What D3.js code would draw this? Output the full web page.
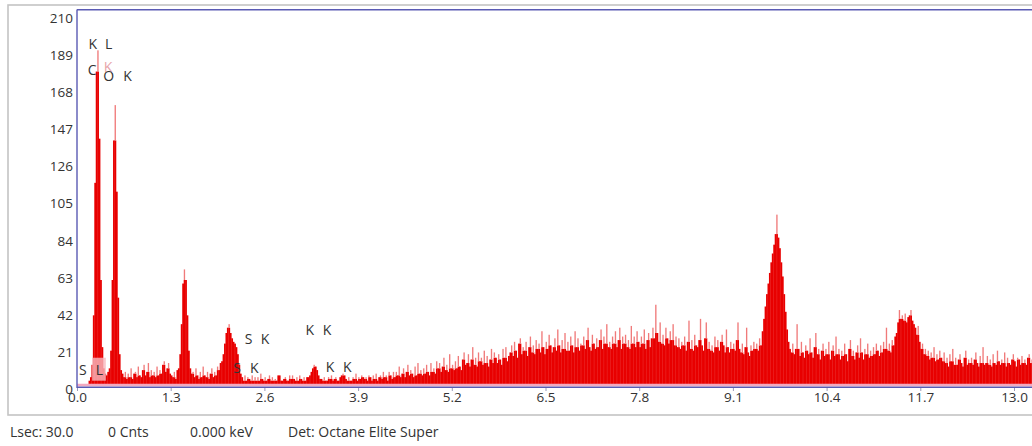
<!DOCTYPE html>
<html><head><meta charset="utf-8">
<script src="https://cdn.jsdelivr.net/npm/d3@7/dist/d3.min.js"></script>
<style>
html,body{margin:0;padding:0;background:#fff;}
svg{display:block;}
text{font-family:"Open Sans","DejaVu Sans",sans-serif;}
</style></head>
<body>
<svg id="chart" width="1032" height="446"></svg>
<script>
// ---- data ----
const binWidth = 0.02;   // keV per channel
const counts = [
 // 0.00 - 0.98 keV
 0,0,0,0,0,0,0,0,3,5, 12,40,115,178,190,140,60,22,10,7, 6,8,10,20,60,139,159,110,50,18, 9,7,5,8,4,7,5,10,4,7, 8,5,11,6,5,9,12,6,8,13,
 // 1.00 - 1.98
 5,9,6,8,5,11,6,9,7,12, 14,8,10,13,7,6,5,8,4,9, 10,18,35,58,66,60,40,20,10,7, 8,5,10,6,4,8,5,11,6,5, 8,4,7,10,5,8,6,11,9,13,
 // 2.00 - 2.98
 14,18,24,30,33,35,30,27,25,24, 22,18,12,7,5,3,6,3,5,4, 3,6,3,5,3,5,3,7,4,3, 5,3,4,6,3,5,3,4,3,6, 6,3,3,4,5,3,3,6,4,6,
 // 3.00 - 3.98
 4,3,5,3,6,4,3,5,3,5, 5,6,8,10,12,11,9,6,4,4, 3,5,3,3,5,4,6,3,4,5, 3,3,5,6,7,6,4,3,5,3, 3,5,4,7,3,5,4,6,5,4,
 // 4.00 - 4.98
 5,3,6,5,3,6,4,7,3,5, 6,4,8,5,6,3,8,6,4,8, 5,8,6,11,5,7,10,5,8,12, 6,9,7,5,11,6,13,7,9,6, 10,7,12,8,6,13,8,10,7,14,
 // 5.00 - 5.98
 10,13,8,11,16,9,12,8,18,10, 12,9,14,10,17,11,9,15,19,12, 13,18,11,15,22,12,16,11,19,14, 16,12,20,13,17,11,15,21,13,19, 16,13,18,15,12,21,16,22,14,17,
 // 6.00 - 6.98
 19,23,17,25,20,16,24,27,18,22, 20,25,17,22,28,19,23,18,26,21, 24,19,31,22,18,25,21,29,23,19, 22,27,20,32,23,19,26,21,30,20, 25,20,28,23,19,31,22,27,20,24,
 // 7.00 - 7.98
 23,28,21,26,33,22,20,29,24,21, 27,22,26,32,21,28,24,35,22,25, 21,28,24,31,22,26,33,21,28,24, 29,22,26,21,34,24,28,22,31,25, 22,28,24,32,21,26,30,22,27,33,
 // 8.00 - 8.98
 27,46,30,25,36,24,29,23,33,27, 24,31,26,35,23,28,22,27,21,25, 23,28,20,25,37,21,26,20,29,23, 22,26,38,23,20,27,36,21,25,20, 23,19,28,22,26,20,25,29,23,19,
 // 9.00 - 9.98
 32,22,19,25,21,24,20,26,36,21, 19,24,18,22,33,19,17,23,20,25, 21,24,20,27,23,31,38,45,52,58, 64,70,75,80,86,97,84,78,70,62, 52,42,32,25,21,19,24,18,21,35,
 // 10.00 - 10.98
 21,17,25,19,16,23,20,18,27,19, 16,22,30,18,21,15,20,24,17,21, 18,25,15,20,23,17,28,18,21,15, 20,17,24,18,14,21,26,17,20,15, 19,23,16,27,19,15,21,18,24,16,
 // 11.00 - 11.98
 20,17,22,18,24,20,17,23,19,25, 21,33,20,24,19,26,23,28,30,36, 43,38,40,37,41,36,39,40,43,37, 35,33,29,34,25,21,24,18,21,17, 20,15,19,16,22,14,18,15,20,16,
 // 12.00 - 12.98
 14,19,13,16,11,18,14,21,12,16, 12,15,18,13,11,16,20,12,15,13, 16,12,15,19,13,11,17,13,22,12, 13,17,12,15,11,18,13,12,20,14, 12,15,13,19,11,16,13,12,15,18,
 // 13.00 - 13.24
 14,11,16,15,12,17,13,15,12,16,18,13,15
];
const xTicks = [0.0, 1.3, 2.6, 3.9, 5.2, 6.5, 7.8, 9.1, 10.4, 11.7, 13.0];
const yTicks = [0, 21, 42, 63, 84, 105, 126, 147, 168, 189, 210];
// element marker labels: text, energy (keV), count level, faint flag
const markerText   = ["K","L","C","K","O","K","S","L","S","K","S","K","K","K","K","K"];
const markerEnergy = [0.22,0.44,0.21,0.43,0.44,0.70,0.08,0.31,2.38,2.61,2.22,2.46,3.23,3.47,3.51,3.75];
const markerCount  = [194,194,179,181,176,176,9.6,9.6,27,27,10.5,10.5,32,32,11,11];
const markerFaint  = [0,0,0,1,0,0,0,0,0,0,0,0,0,0,0,0];
const footerItems  = ["Lsec: 30.0", "0 Cnts", "0.000 keV", "Det: Octane Elite Super"];

// ---- drawing ----
const svg = d3.select("#chart");
const W = 1032;
const x = d3.scaleLinear().domain([0, 13]).range([77, 1014]);
const y = d3.scaleLinear().domain([0, 210]).range([386, 15]);

// outer frame
svg.append("rect").attr("x", 8).attr("y", 5).attr("width", 1040).attr("height", 410)
  .attr("fill", "#fff").attr("stroke", "#c4c4c4").attr("stroke-width", 1.6);

svg.append("defs").append("clipPath").attr("id", "plotClip")
  .append("rect").attr("x", 77).attr("y", 10).attr("width", W - 77).attr("height", 378);

const plot = svg.append("g").attr("clip-path", "url(#plotClip)");

const bins = counts.map((v, i) => {
  const prev = i > 0 ? counts[i - 1] : 0;
  const next = i < counts.length - 1 ? counts[i + 1] : 0;
  return { e0: i * binWidth, v: v, solid: Math.min(v, Math.max(prev, next)) };
});

// solid part
plot.selectAll("rect.bar").data(bins).enter().append("rect").attr("class", "bar")
  .attr("x", d => x(d.e0)).attr("width", d => x(d.e0 + binWidth) - x(d.e0) + 0.35)
  .attr("y", d => y(d.solid)).attr("height", d => y(0) - y(d.solid))
  .attr("fill", "#e80000");
// isolated spike tips
plot.selectAll("rect.spike").data(bins.filter(d => d.v > d.solid)).enter().append("rect").attr("class", "spike")
  .attr("x", d => x(d.e0) + 0.1).attr("width", d => x(d.e0 + binWidth) - x(d.e0) - 0.1)
  .attr("y", d => y(d.v)).attr("height", d => y(d.solid) - y(d.v))
  .attr("fill", "#f07a7a");

// pink highlight box over the low-energy marker region
const hl = [[0.21, 0.40, 3, 16]];
plot.selectAll("rect.hl").data(hl).enter().append("rect").attr("class", "hl")
  .attr("x", d => x(d[0])).attr("width", d => x(d[1]) - x(d[0]))
  .attr("y", d => y(d[3])).attr("height", d => y(d[2]) - y(d[3]))
  .attr("fill", "#f7b9bf").attr("opacity", 0.8);

// baseline pink strip and blue axis lines
svg.append("line").attr("x1", 77).attr("x2", W).attr("y1", y(0) - 1).attr("y2", y(0) - 1)
  .attr("stroke", "#f2a9c0").attr("stroke-width", 2.5);
svg.append("line").attr("x1", 77).attr("x2", W).attr("y1", y(0) + 1.2).attr("y2", y(0) + 1.2)
  .attr("stroke", "#5a5ab4").attr("stroke-width", 1.4);
svg.append("line").attr("x1", 77).attr("x2", 77).attr("y1", 9.5).attr("y2", y(0) + 2)
  .attr("stroke", "#5a5ab4").attr("stroke-width", 1.4);
svg.append("line").attr("x1", 77).attr("x2", W).attr("y1", 9.8).attr("y2", 9.8)
  .attr("stroke", "#5a5ab4").attr("stroke-width", 1.4);

// y axis
const yAxis = svg.append("g").attr("transform", "translate(76,0)")
  .call(d3.axisLeft(y).tickValues(yTicks).tickSize(0).tickPadding(3).tickFormat(d3.format("d")));
yAxis.select(".domain").remove();
yAxis.selectAll("text").attr("font-size", 13.5).attr("fill", "#333").attr("dy", "0.55em")
  .attr("font-family", "'Open Sans', sans-serif");

// x axis
const xAxis = svg.append("g").attr("transform", `translate(0,${y(0) + 2})`)
  .call(d3.axisBottom(x).tickValues(xTicks).tickSize(3).tickPadding(1).tickFormat(d3.format(".1f")));
xAxis.select(".domain").remove();
xAxis.selectAll("line").attr("stroke", "#9a9ab8");
xAxis.selectAll("text").attr("font-size", 13.5).attr("fill", "#333")
  .attr("font-family", "'Open Sans', sans-serif");

// marker labels
svg.append("g").selectAll("text").data(markerText).enter().append("text")
  .attr("x", (d, i) => x(markerEnergy[i])).attr("y", (d, i) => y(markerCount[i]))
  .attr("text-anchor", "middle").attr("dominant-baseline", "central")
  .attr("font-size", 14).attr("fill", (d, i) => markerFaint[i] ? "#e7a4aa" : "#333")
  .text(d => d);

// footer
const footerX = [10, 108, 190, 288];
svg.append("g").selectAll("text").data(footerItems).enter().append("text")
  .attr("x", (d, i) => footerX[i]).attr("y", 437)
  .attr("font-size", 14).attr("fill", "#333").text(d => d);
</script>
</body></html>
